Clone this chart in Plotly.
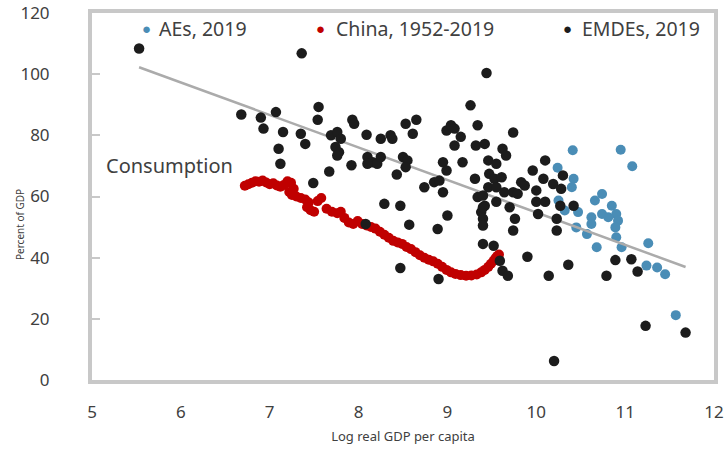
import plotly.graph_objects as go

# Advanced economies, 2019: (log real GDP per capita, consumption % of GDP)
aes_x = [10.41, 10.95, 11.08, 10.24, 10.42, 10.40, 10.25, 10.32, 10.47, 10.45,
         10.57, 10.66, 10.74, 10.85, 10.90, 10.92, 10.62, 10.62, 10.74, 10.81,
         10.89, 10.68, 10.90, 10.96, 11.26, 11.24, 11.36, 11.45, 11.57]
aes_y = [75.1, 75.3, 69.9, 69.4, 65.8, 63.0, 58.7, 55.4, 54.9, 49.9,
         47.7, 58.7, 60.8, 57.0, 54.3, 52.1, 53.2, 51.0, 54.3, 53.2,
         49.9, 43.4, 46.7, 43.4, 44.7, 37.4, 36.8, 34.6, 21.2]

# China, 1952-2019
china_x = [6.72, 6.76, 6.80, 6.84, 6.88, 6.92, 6.96, 7.00, 7.04, 7.08,
           7.12, 7.16, 7.20, 7.24, 7.27, 7.22, 7.25, 7.30, 7.35, 7.40,
           7.44, 7.42, 7.46, 7.50, 7.54, 7.58, 7.64, 7.70, 7.76, 7.80,
           7.84, 7.89, 7.94, 7.99, 8.04, 8.09, 8.14, 8.19, 8.24, 8.29,
           8.34, 8.39, 8.44, 8.49, 8.54, 8.59, 8.64, 8.69, 8.74, 8.79,
           8.84, 8.89, 8.94, 8.99, 9.04, 9.09, 9.15, 9.21, 9.27, 9.33,
           9.38, 9.42, 9.46, 9.49, 9.52, 9.54, 9.56, 9.58]
china_y = [63.5, 64.0, 64.5, 65.0, 64.8, 65.2, 64.6, 64.0, 64.3, 63.6,
           63.2, 63.8, 65.0, 64.5, 62.5, 61.5, 60.5, 60.0, 59.5, 59.0,
           58.0, 56.5, 55.5, 55.0, 58.5, 59.5, 56.0, 55.0, 54.5, 55.0,
           53.0, 51.5, 51.0, 52.0, 51.0, 50.5, 50.0, 49.5, 48.5, 47.5,
           46.5, 45.5, 45.0, 44.5, 43.5, 42.8, 41.8, 40.8, 40.0, 39.3,
           38.8, 38.0, 37.0, 36.0, 35.2, 34.7, 34.3, 34.1, 34.2, 34.5,
           35.2, 36.0, 37.0, 38.0, 39.0, 39.8, 40.5, 41.0]

# Emerging market and developing economies, 2019
emde_x = [5.53, 7.36, 6.68, 6.90, 7.07, 7.55, 7.54, 6.93, 7.15, 7.35,
          7.40, 7.10, 7.12, 7.49, 7.67, 7.93, 7.95, 7.69, 7.76, 7.80,
          7.74, 7.78, 7.76, 8.09, 8.25, 8.36, 8.38, 8.53, 7.92, 8.10,
          8.16, 8.21, 8.10, 8.43, 8.50, 8.55, 8.29, 8.47, 9.44, 9.26,
          9.34, 8.65, 8.61, 8.99, 9.04, 9.08, 9.15, 9.08, 9.74, 9.32,
          9.42, 9.62, 9.66, 8.53, 8.95, 8.99, 9.17, 8.74, 8.85, 8.91,
          8.95, 9.00, 8.57, 8.89, 8.47, 8.90, 9.46, 9.55, 9.31, 9.47,
          9.53, 9.61, 9.46, 9.55, 9.64, 9.74, 9.79, 9.83, 9.87, 9.34,
          9.42, 9.38, 9.40, 9.40, 9.55, 9.70, 9.76, 9.74, 9.96, 10.08,
          10.00, 10.00, 10.10, 10.02, 10.19, 10.28, 10.30, 10.23, 10.23, 10.27,
          10.42, 10.10, 9.40, 9.52, 9.59, 9.62, 9.68, 9.90, 10.14, 10.36,
          10.79, 10.89, 11.07, 11.14, 11.23, 11.68, 10.20, 8.08, 9.40, 9.40,
          8.25]
emde_y = [108.4, 106.8, 86.8, 85.8, 87.6, 89.3, 85.1, 82.2, 81.1, 80.5,
          77.2, 75.6, 70.7, 64.4, 68.2, 85.1, 83.8, 80.0, 81.1, 78.9,
          76.2, 74.5, 73.4, 80.2, 78.9, 80.0, 78.9, 83.8, 70.2, 72.9,
          71.2, 70.7, 70.7, 67.2, 72.9, 71.8, 57.6, 57.0, 100.4, 89.8,
          83.3, 85.1, 80.5, 81.6, 83.3, 82.2, 79.5, 76.7, 80.9, 76.7,
          77.2, 75.6, 73.4, 69.6, 71.2, 68.5, 71.2, 63.0, 64.7, 65.2,
          61.4, 53.8, 50.8, 49.4, 36.6, 33.0, 71.8, 70.7, 65.8, 67.4,
          65.8, 66.3, 63.0, 63.0, 61.4, 61.4, 60.9, 64.7, 63.6, 59.8,
          57.0, 54.9, 52.7, 50.5, 58.3, 56.5, 52.7, 48.9, 68.5, 65.8,
          62.0, 58.3, 58.3, 54.3, 64.1, 62.5, 66.9, 52.7, 48.9, 57.0,
          57.0, 71.8, 44.5, 43.9, 39.0, 35.7, 34.1, 40.3, 34.1, 37.7,
          34.1, 39.2, 39.5, 35.5, 17.7, 15.5, 6.2, 51.0, 60.3, 56.5,
          72.9]

# Linear trend across all 2019 economies
trend_slope = -10.62
trend_intercept = 161.0

x_ticks = [5, 6, 7, 8, 9, 10, 11, 12]
y_ticks = [0, 20, 40, 60, 80, 100, 120]

BLUE = "#4A8DB6"
RED = "#C00000"
BLACK = "#1C1C1C"
TEXT = "#404040"
FRAME = "#C8C8C8"
FONT = "Noto Sans"

all_x = aes_x + emde_x
tx = [min(all_x), max(all_x)]
ty = [trend_intercept + trend_slope * v for v in tx]

fig = go.Figure()
fig.add_trace(go.Scatter(x=aes_x, y=aes_y, mode="markers", name="AEs, 2019",
                         marker=dict(color=BLUE, size=10, line=dict(width=0))))
fig.add_trace(go.Scatter(x=tx, y=ty, mode="lines", showlegend=False,
                         line=dict(color="#ABABAB", width=2.5)))
fig.add_trace(go.Scatter(x=china_x, y=china_y, mode="markers", name="China, 1952-2019",
                         marker=dict(color=RED, size=10, line=dict(width=0))))
fig.add_trace(go.Scatter(x=emde_x, y=emde_y, mode="markers", name="EMDEs, 2019",
                         marker=dict(color=BLACK, size=10.5, line=dict(width=0))))

L, R, T, B = 92, 14, 13, 70
W, H = 728, 450
pw, ph = W - L - R, H - T - B


def px_to_paper_x(px):
    return (px - L) / pw


def py_to_paper_y(py):
    return 1 - (py - T) / ph


# Legend row drawn as text across the top of the frame
legend_items = [("AEs, 2019", BLUE, 146, 157),
                ("China, 1952-2019", RED, 320, 334),
                ("EMDEs, 2019", BLACK, 567, 580)]
for label, col, dot_px, text_px in legend_items:
    fig.add_annotation(x=px_to_paper_x(dot_px), y=py_to_paper_y(28), xref="paper", yref="paper",
                       text="●", showarrow=False, xanchor="center", yanchor="middle",
                       font=dict(family=FONT, size=15, color=col))
    fig.add_annotation(x=px_to_paper_x(text_px), y=py_to_paper_y(28), xref="paper", yref="paper",
                       text=label, showarrow=False, xanchor="left", yanchor="middle",
                       font=dict(family=FONT, size=19.5, color=TEXT))

fig.add_annotation(x=px_to_paper_x(104), y=py_to_paper_y(165), xref="paper", yref="paper",
                   text="Consumption", showarrow=False, xanchor="left", yanchor="middle",
                   font=dict(family=FONT, size=20, color=TEXT))

fig.add_annotation(x=px_to_paper_x(20), y=py_to_paper_y(225), xref="paper", yref="paper",
                   text="Percent of GDP", showarrow=False, textangle=-90,
                   xanchor="center", yanchor="middle",
                   font=dict(family=FONT, size=10, color=TEXT))

fig.update_layout(
    width=W, height=H,
    margin=dict(l=L, r=R, t=T, b=B, autoexpand=False),
    paper_bgcolor="white", plot_bgcolor="white",
    showlegend=False,
    font=dict(family=FONT, color=TEXT),
    xaxis=dict(range=[5, 12], tickvals=x_ticks, ticktext=[str(v) for v in x_ticks],
               showgrid=False, zeroline=False, automargin=False,
               showline=True, mirror=True, linecolor=FRAME, linewidth=4, ticks="",
               tickfont=dict(size=17, color=TEXT), ticklabelstandoff=14,
               title=dict(text="Log real GDP per capita", font=dict(size=13, color=TEXT),
                          standoff=10)),
    yaxis=dict(range=[0, 120], tickvals=y_ticks, ticktext=[str(v) for v in y_ticks],
               showgrid=False, zeroline=False, automargin=False,
               showline=True, mirror=True, linecolor=FRAME, linewidth=4,
               ticks="inside", ticklen=8, tickwidth=2, tickcolor=FRAME,
               tickfont=dict(size=17, color=TEXT), ticklabelstandoff=35),
)

fig.write_html("out.html")
